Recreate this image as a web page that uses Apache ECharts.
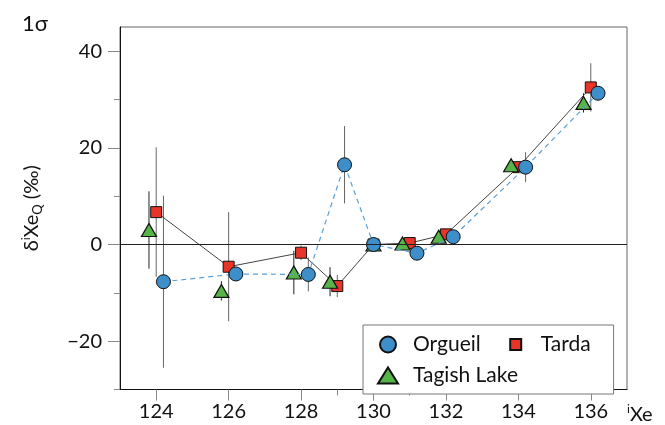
<!DOCTYPE html>
<html>
<head>
<meta charset="utf-8">
<script src="https://cdn.jsdelivr.net/npm/echarts@6/dist/echarts.min.js"></script>
<style>
  html, body { margin: 0; padding: 0; background: #fff; }
  #chart { width: 665px; height: 425px; }
</style>
</head>
<body>
<div id="chart"></div>
<script>
// Xe isotope data (delta values in permil, 1 sigma errors)
var masses = [124, 126, 128, 129, 130, 131, 132, 134, 136];

// each meteorite is nudged sideways a little so the symbols don't overlap
var orgueilX = [124.2, 126.2, 128.2, 129.2, 130, 131.2, 132.2, 134.2, 136.2];
var orgueilY = [-7.7, -6.1, -6.2, 16.5, 0, -1.8, 1.6, 16.0, 31.3];
var orgueilErr = [17.8, 1, 3.5, 8, 0, 1, 1, 3.1, 1];

var tardaX = [124, 126, 128, 129, 130, 131, 132, 134, 136];
var tardaY = [6.7, -4.6, -1.7, -8.6, 0, 0.3, 2.1, 16.0, 32.5];
var tardaErr = [13.4, 11.3, 1.5, 2.3, 0, 1, 1, 1, 5];

var tagishX = [123.8, 125.8, 127.8, 128.8, 130, 130.8, 131.8, 133.8, 135.8];
var tagishY = [3.0, -9.6, -5.8, -7.7, 0, 0.2, 1.6, 16.4, 29.3];
var tagishErr = [8, 2, 4.5, 3, 0, 1, 1, 1, 2];

var xTicks = [124, 126, 128, 130, 132, 134, 136];
var xMinorTicks = [129, 131];
var yTicks = [-20, 0, 20, 40];
var yMinorTicks = [-30, -10, 10, 30];

var FONT = 'Lato, "Open Sans", sans-serif';
var blue = '#3d8ec9', red = '#e8352a', green = '#57b448';

function pairs(xs, ys) {
  return xs.map(function (x, i) { return [x, ys[i]]; });
}

// vertical error bars, drawn with a custom series
function errorBars(xs, ys, errs, color, extra) {
  var s = {
    type: 'custom',
    silent: true,
    z: 1,
    data: xs.map(function (x, i) { return [x, ys[i] - errs[i], ys[i] + errs[i]]; }),
    encode: { x: 0, y: [1, 2] },
    renderItem: function (params, api) {
      var lo = api.coord([api.value(0), api.value(1)]);
      var hi = api.coord([api.value(0), api.value(2)]);
      return {
        type: 'line',
        shape: { x1: lo[0], y1: lo[1], x2: hi[0], y2: hi[1] },
        style: { stroke: color, lineWidth: 1 }
      };
    }
  };
  if (extra) Object.assign(s, extra);
  return s;
}

var chart = echarts.init(document.getElementById('chart'));

var tickStyle = { color: '#888' };
var blankLabel = function () { return ''; };

var option = {
  animation: false,
  backgroundColor: '#fff',
  textStyle: { fontFamily: FONT },
  title: {
    text: '1σ',
    left: 17,
    top: 8,
    textStyle: { fontFamily: FONT, fontSize: 22, fontWeight: 'normal', color: '#111' }
  },
  legend: {
    left: 363,
    top: 325,
    width: 300,
    z: 10,
    orient: 'horizontal',
    itemWidth: 20,
    itemHeight: 16,
    itemGap: 10,
    padding: [9, 9, 8, 14],
    backgroundColor: '#fff',
    borderColor: '#777',
    borderWidth: 1,
    borderRadius: 0,
    textStyle: {
      fontFamily: FONT, fontSize: 21, color: '#111', lineHeight: 19,
      padding: [0, 14, 0, 10]
    },
    data: [
      { name: 'Orgueil', icon: 'circle' },
      { name: 'Tarda', icon: 'path://M0,0M20,16M4.5,2.5L15.5,2.5L15.5,13.5L4.5,13.5Z' },
      { name: 'Tagish Lake', icon: 'path://M10,0L20,16L0,16Z' }
    ]
  },
  grid: [
    { left: 120, right: 38, top: 27, bottom: 35.5, outerBoundsMode: 'none', show: true, borderColor: '#666', borderWidth: 1 },
    { left: 120, right: 38, top: 27, bottom: 35.5, outerBoundsMode: 'none' }
  ],
  xAxis: [
    {
      type: 'value', gridIndex: 0, min: 123, max: 137,
      name: '{s|i}{n|Xe}',
      nameLocation: 'end',
      nameGap: 0,
      nameTextStyle: {
        align: 'left', verticalAlign: 'top', padding: [14, 0, 0, 0],
        rich: {
          s: { fontFamily: FONT, fontSize: 12, color: '#111', verticalAlign: 'top', lineHeight: 22 },
          n: { fontFamily: FONT, fontSize: 20, color: '#111', lineHeight: 22 }
        }
      },
      splitLine: { show: false },
      axisLine: { show: true, onZero: false, lineStyle: { color: '#111', width: 1 } },
      axisTick: { show: true, length: 11, customValues: xTicks, lineStyle: tickStyle },
      axisLabel: { customValues: xTicks, margin: 12, fontFamily: FONT, fontSize: 20, color: '#111' }
    },
    {
      type: 'value', gridIndex: 1, min: 123, max: 137,
      splitLine: { show: false },
      axisLine: { show: false, onZero: false },
      axisTick: { show: true, length: 6, customValues: xMinorTicks, lineStyle: tickStyle },
      axisLabel: { show: true, customValues: xMinorTicks, formatter: blankLabel }
    }
  ],
  yAxis: [
    {
      type: 'value', gridIndex: 0, min: -30, max: 45,
      name: '{d|δ}{s|i}{d|Xe}{q|Q}{d| (‰)}',
      nameLocation: 'middle',
      nameRotate: 90,
      nameGap: 76,
      nameTextStyle: {
        padding: [0, 0, 0, 0],
        rich: {
          d: { fontFamily: FONT, fontSize: 20, color: '#111', lineHeight: 24 },
          s: { fontFamily: FONT, fontSize: 12, color: '#111', verticalAlign: 'top', lineHeight: 24 },
          q: { fontFamily: FONT, fontSize: 13, color: '#111', verticalAlign: 'bottom', lineHeight: 20 }
        }
      },
      splitLine: { show: false },
      axisLine: { show: true, onZero: false, lineStyle: { color: '#111', width: 1 } },
      axisTick: { show: true, length: 12, customValues: yTicks, lineStyle: tickStyle },
      axisLabel: {
        customValues: yTicks, margin: 18, fontFamily: FONT, fontSize: 20, color: '#111',
        formatter: function (v) { return v < 0 ? '\u2212' + (-v) : String(v); }
      }
    },
    {
      type: 'value', gridIndex: 1, min: -30, max: 45,
      splitLine: { show: false },
      axisLine: { show: false, onZero: false },
      axisTick: { show: true, length: 6, customValues: yMinorTicks, lineStyle: tickStyle },
      axisLabel: { show: true, customValues: yMinorTicks, formatter: blankLabel }
    }
  ],
  series: [
    errorBars(tardaX, tardaY, tardaErr, '#666', {
      markLine: {
        silent: true,
        symbol: 'none',
        label: { show: false },
        lineStyle: { color: '#222', width: 1, type: 'solid' },
        data: [{ yAxis: 0 }]
      }
    }),
    errorBars(orgueilX, orgueilY, orgueilErr, '#666'),
    errorBars(tagishX, tagishY, tagishErr, '#222'),
    {
      name: 'Tarda',
      type: 'line',
      z: 2,
      data: pairs(tardaX, tardaY),
      symbol: 'rect',
      symbolSize: 11,
      showAllSymbol: true,
      lineStyle: { color: '#444', width: 1 },
      itemStyle: { color: red, borderColor: '#111', borderWidth: 1 }
    },
    {
      name: 'Tagish Lake',
      type: 'scatter',
      z: 3,
      data: pairs(tagishX, tagishY),
      symbol: 'triangle',
      symbolSize: [15, 13],
      itemStyle: { color: green, borderColor: '#111', borderWidth: 1.2, opacity: 1 }
    },
    {
      name: 'Orgueil',
      type: 'line',
      z: 4,
      data: pairs(orgueilX, orgueilY),
      symbol: 'circle',
      symbolSize: 14,
      showAllSymbol: true,
      lineStyle: { color: '#5aa0d8', width: 1.2, type: [5, 4] },
      itemStyle: { color: blue, borderColor: '#111', borderWidth: 1 }
    }
  ]
};

chart.setOption(option);
</script>
</body>
</html>
